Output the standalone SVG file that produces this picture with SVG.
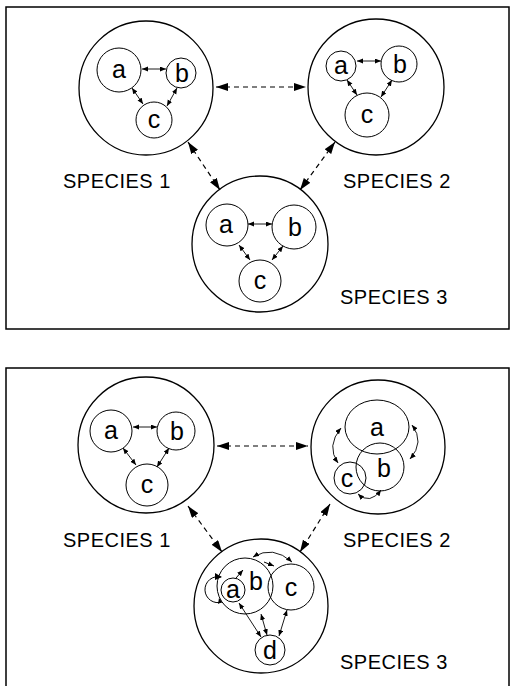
<svg xmlns="http://www.w3.org/2000/svg" width="511" height="686" viewBox="0 0 511 686">
<style>
.panel{fill:none;stroke:#000;stroke-width:1.5}
.big{fill:#fff;stroke:#000;stroke-width:1.3}
.sm{fill:none;stroke:#000;stroke-width:1}
.lbl{font-family:"Liberation Sans",Arial,sans-serif;font-size:20px;letter-spacing:0.5px;fill:#000}
.ltr{font-family:"Liberation Sans",Arial,sans-serif;font-size:25px;fill:#000;text-anchor:middle}
.da{fill:none;stroke:#000;stroke-width:1.2;stroke-dasharray:5 4;marker-start:url(#bh);marker-end:url(#bh)}
.sa{fill:none;stroke:#000;stroke-width:0.9;marker-start:url(#sh);marker-end:url(#sh)}
</style>
<defs>
<marker id="bh" markerUnits="userSpaceOnUse" markerWidth="14" markerHeight="10" refX="12" refY="4" orient="auto-start-reverse"><path d="M0,0 L12,4 L0,8 z" fill="#000"/></marker>
<marker id="sh" markerUnits="userSpaceOnUse" markerWidth="8" markerHeight="6" refX="6" refY="2.5" orient="auto-start-reverse"><path d="M0,0 L6,2.5 L0,5 z" fill="#000"/></marker>
</defs>
<rect width="511" height="686" fill="#fff"/>
<rect class="panel" x="6" y="7" width="503" height="322"/>
<rect class="panel" x="6" y="368" width="503" height="340"/>

<!-- TOP PANEL -->
<g id="t-sp1">
<circle class="big" cx="146" cy="88" r="67"/>
<circle class="sm" cx="119" cy="70" r="22"/><text class="ltr" x="119" y="78">a</text>
<circle class="sm" cx="181" cy="73" r="15"/><text class="ltr" x="182" y="82">b</text>
<circle class="sm" cx="154" cy="120" r="18"/><text class="ltr" x="154" y="128">c</text>
<path class="sa" d="M142,69 L166,69"/>
<path class="sa" d="M132,88 L143,104"/>
<path class="sa" d="M177,88 L167,106"/>
<text class="lbl" x="63" y="188">SPECIES 1</text>
</g>
<g id="t-sp2">
<circle class="big" cx="376" cy="87" r="68"/>
<circle class="sm" cx="341" cy="66" r="15"/><text class="ltr" x="341" y="74">a</text>
<circle class="sm" cx="399" cy="64" r="18"/><text class="ltr" x="400" y="73">b</text>
<circle class="sm" cx="367" cy="115" r="22"/><text class="ltr" x="367" y="123">c</text>
<path class="sa" d="M357,61 L381,61"/>
<path class="sa" d="M347,80 L357,95"/>
<path class="sa" d="M392,80 L381,97"/>
<text class="lbl" x="343" y="188">SPECIES 2</text>
</g>
<g id="t-sp3">
<circle class="big" cx="260" cy="244" r="68"/>
<circle class="sm" cx="227" cy="225" r="21"/><text class="ltr" x="226" y="233">a</text>
<circle class="sm" cx="294" cy="227" r="22"/><text class="ltr" x="295" y="236">b</text>
<circle class="sm" cx="260" cy="281" r="21"/><text class="ltr" x="260" y="289">c</text>
<path class="sa" d="M248,224 L272,224"/>
<path class="sa" d="M239,245 L250,260"/>
<path class="sa" d="M283,246 L272,260"/>
<text class="lbl" x="340" y="304">SPECIES 3</text>
</g>

<!-- BOTTOM PANEL -->
<g id="b-sp1">
<circle class="big" cx="146" cy="445" r="68"/>
<circle class="sm" cx="111" cy="431" r="21"/><text class="ltr" x="111" y="439">a</text>
<circle class="sm" cx="176" cy="431" r="19"/><text class="ltr" x="177" y="440">b</text>
<circle class="sm" cx="147" cy="485" r="21"/><text class="ltr" x="147" y="493">c</text>
<path class="sa" d="M133,427 L157,427"/>
<path class="sa" d="M123,448 L136,465"/>
<path class="sa" d="M169,448 L157,467"/>
<text class="lbl" x="63" y="547">SPECIES 1</text>
</g>
<g id="b-sp2">
<circle class="big" cx="378" cy="447" r="67"/>
<ellipse class="sm" cx="377" cy="427" rx="32" ry="27"/><text class="ltr" x="377" y="436">a</text>
<circle class="sm" cx="380" cy="467" r="24"/><text class="ltr" x="384" y="477">b</text>
<circle class="sm" cx="350" cy="478" r="16"/><text class="ltr" x="347" y="487">c</text>
<path class="sa" d="M341,428 Q326,446 338,463"/>
<path class="sa" d="M412,425 Q425,442 410,459"/>
<path class="sa" d="M358,494 Q370,505 381,490"/>
<text class="lbl" x="343" y="547">SPECIES 2</text>
</g>
<g id="b-sp3">
<circle class="big" cx="261" cy="606" r="67"/>
<circle class="sm" cx="245" cy="586" r="28"/>
<circle class="sm" cx="291" cy="587" r="23"/>
<circle class="sm" cx="233" cy="590" r="12"/>
<circle class="sm" cx="270" cy="650" r="15"/>
<path class="sm" d="M221,577 A13,13 0 1 0 222,602"/>
<path d="M215,573 L222,577 L215,580 z" fill="#000"/>
<path d="M218,604 L222,602 L219,598 z" fill="#000"/>
<text class="ltr" x="233" y="598">a</text>
<text class="ltr" x="256" y="590">b</text>
<text class="ltr" x="291" y="596">c</text>
<text class="ltr" x="270" y="659">d</text>
<path class="sa" d="M253,557 Q273,545 292,562"/>
<path class="sm" d="M264,562 L274,566" marker-end="url(#sh)"/>
<path class="sm" d="M236,578 L243,570" marker-end="url(#sh)"/>
<path class="sa" d="M239,603 L261,637"/>
<path class="sa" d="M261,614 L267,635"/>
<path class="sa" d="M287,610 L279,636"/>
<text class="lbl" x="340" y="669">SPECIES 3</text>
</g>

<g id="connectors">
<path class="da" d="M216,87 L306,87"/>
<path class="da" d="M188,142 L220,190"/>
<path class="da" d="M335,142 L300,190"/>
<path class="da" d="M217,446 L308,446"/>
<path class="da" d="M188,506 L222,552"/>
<path class="da" d="M330,504 L300,552"/>
</g>
</svg>
